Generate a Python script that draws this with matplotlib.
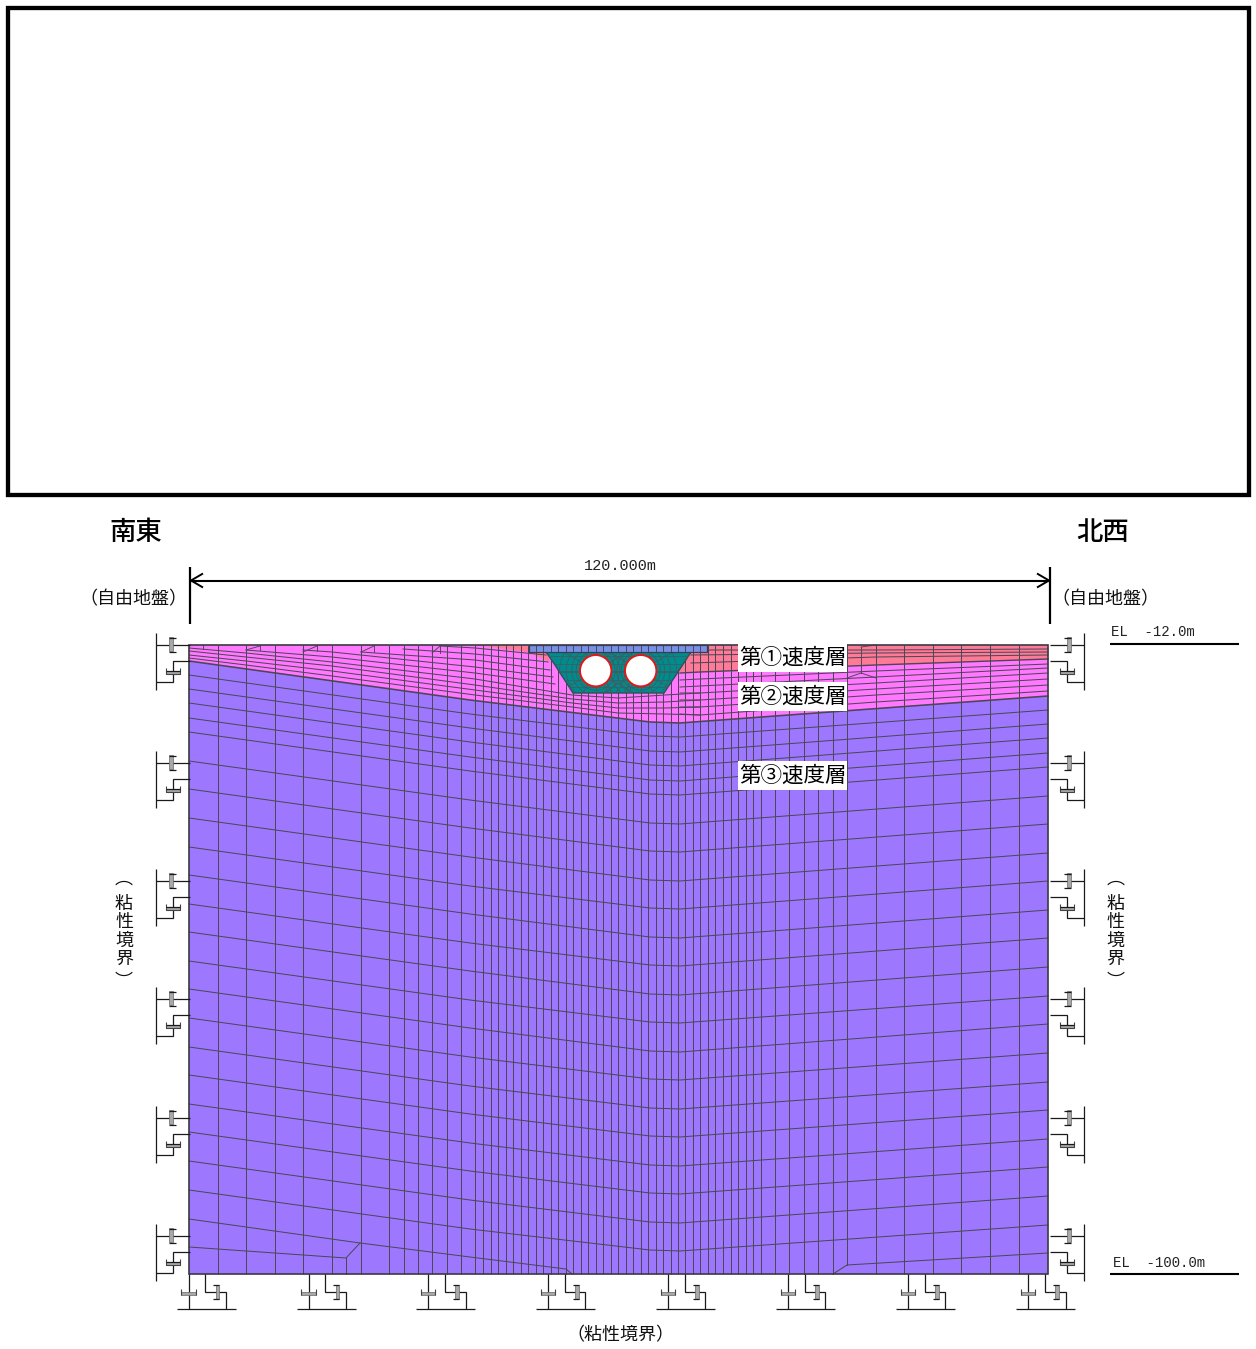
import matplotlib
matplotlib.use("Agg")
import matplotlib.pyplot as plt
from matplotlib.patches import Polygon, Rectangle, Circle
import numpy as np

plt.rcParams['font.family'] = ['Noto Sans CJK JP', 'DejaVu Sans']
MONO = 'Liberation Mono'

# ---- mesh data (figure pixels) ----
x_left, x_right, y_top, y_bot = 189, 1048, 645, 1274
x_grid = [217.5, 246, 275, 303, 332, 361, 389, 404, 418, 432, 447, 461, 475, 483, 491,
          498, 506, 513, 521, 528, 536, 543, 551, 558, 566, 573, 581, 588, 596, 603,
          611, 618, 626, 633, 641, 648, 656, 663, 671, 678, 685, 693, 700, 708, 715,
          723, 731, 738, 746, 753, 761, 775, 789, 804, 818, 833, 876, 904, 933, 961,
          990, 1019]
stations = [189, 470, 650, 680, 1048]
row_189 = [661, 675, 689, 703, 718, 732, 761, 789, 818, 847, 875, 904, 932, 961, 989,
           1018, 1047, 1075, 1104, 1132, 1161, 1190]
row_470 = [700, 714, 728, 742, 757, 771, 800, 828, 857, 886, 914, 943, 971, 1000, 1028,
           1057, 1086, 1114, 1143, 1171, 1200, 1229]
row_650 = [722, 736, 751, 765, 780, 794, 823, 851, 880, 908, 937, 965, 994, 1022, 1051,
           1079, 1108, 1136, 1165, 1193, 1222, 1250]
row_680 = [723, 737, 752, 766, 781, 795, 824, 852, 881, 909, 938, 966, 995, 1023, 1052,
           1080, 1109, 1137, 1166, 1194, 1223, 1251]
row_1048 = [696, 710, 724, 738, 753, 767, 796, 824, 853, 881, 910, 938, 967, 996, 1024,
            1053, 1082, 1110, 1139, 1167, 1196, 1225]
# rows that end against the bottom edge
bottom_left_row_x = [189, 360, 470, 566, 572]
bottom_left_row_y = [1219, 1243, 1257, 1269, 1274]
bottom_extra_x = [189, 346, 360]
bottom_extra_y = [1247, 1258, 1243]
bottom_right_row_x = [1048, 847, 833]
bottom_right_row_y = [1253, 1265, 1274]
partial_vertical_x = [346, 847]
partial_vertical_y = [(1258, 1274), (645, 1265)]

# layer 1 (red) outlines
red_right_x = [691, 707, 1048, 1048, 847, 738, 678]
red_right_y = [652, 645, 645, 659, 666, 671, 672]
red_left_x = [476, 529, 529, 546, 550, 528]
red_left_y = [645, 645, 652, 652, 662, 652]
# layer 1 internal rows, right part
red_rows_x = [691, 876, 1048]
red_rows_y = [[650, 650, 649], [655, 653, 652], [663, 657, 655]]
# layer 2 rows, right of the tunnel
pink_r_x = [680, 700, 876, 1048]
pink_r_y = [[673, 672, 665, 659], [680, 679, 671, 664], [687, 686, 677, 668],
            [693, 693, 683, 673], [700, 700, 689, 679], [707, 707, 695, 685],
            [714, 715, 702, 691]]
# layer 2 rows running under the tunnel
under_x = [189, 246, 332, 475, 572, 618, 665, 700]
under_y = [[658, 665, 676, 695, 707, 713, 714, 715],
           [655, 661, 671, 690, 703, 708, 708, 707],
           [651, 657, 666, 685, 699, 703, 702, 700],
           [648, 653, 662, 679, 695, 698, 695, 693]]
# layer 2 rows that start at the surface and end on the tunnel block
pink_l_rows = [([246, 332, 475, 555], [650, 657, 673, 684]),
               ([303, 332, 475, 553], [650, 652, 667, 677]),
               ([361, 475, 550], [652, 660, 670]),
               ([403, 475, 548], [649, 654, 662]),
               ([440, 475, 546], [646, 648, 655])]
# small transition marks at the surface
surface_marks = [((203, 645), (203, 649)), ((260, 645), (260, 650)), ((317, 645), (317, 651)),
                 ((374, 645), (374, 652)), ((440, 645), (440, 653)), ((246, 650), (260, 646)),
                 ((303, 652), (317, 646)), ((361, 652), (374, 646)), ((432, 653), (440, 646)),
                 ((861, 647), (876, 645)), ((861, 647), (861, 673)), ((847, 678), (861, 673)),
                 ((861, 673), (876, 678))]

# tunnel block
teal_x = [546, 691, 678, 664, 573, 555]
teal_y = [652, 652, 672, 693, 693, 665]
plate_x, plate_x2, plate_y, plate_y2 = 529, 707, 645, 652
tunnel_cx = [595.7, 640.7]
tunnel_cy = 670.7
tunnel_r = 15.7
ring_radii = [19.5, 24, 29.5, 36]
spoke_deg = list(range(0, 360, 30))
teal_rows = [656, 664, 672, 680, 687]

# boundary dashpot anchors
side_anchor_y = [645, 763, 881, 999, 1118, 1236]
bottom_anchor_x = [188.7, 308.7, 428.4, 548, 668, 788, 908, 1028.3]

# labels
layer_labels = ['第①速度層', '第②速度層', '第③速度層']
layer_label_y = [657, 696, 775]
viscous_chars = ['︵', '粘', '性', '境', '界', '︶']
viscous_y = [879, 903.5, 922, 940.5, 959, 982]

C_RED, C_PINK, C_PURP = '#ff7a96', '#ff78ff', '#9d78ff'
C_TEAL, C_BLUE = '#008c8c', '#7890e6'
C_LINE = '#4c4656'

fig = plt.figure(figsize=(12.56, 13.49), dpi=100)
ax = fig.add_axes([0, 0, 1, 1])
ax.set_xlim(0, 1256)
ax.set_ylim(1349, 0)
ax.axis('off')

# frame
ax.add_patch(Rectangle((7.5, 8), 1241, 486.5, fc='white', ec='black', lw=3.1, zorder=1))

# layer fills
ax.add_patch(Rectangle((x_left, y_top), x_right - x_left, y_bot - y_top, fc=C_PURP, ec='none', zorder=1))
bx = stations
by = [r[0] for r in (row_189, row_470, row_650, row_680, row_1048)]
ax.add_patch(Polygon(list(zip([x_left] + bx + [x_right], [y_top] + by + [y_top])), fc=C_PINK, ec='none', zorder=1.1))
ax.add_patch(Polygon(list(zip(red_right_x, red_right_y)), fc=C_RED, ec='none', zorder=1.2))
ax.add_patch(Polygon(list(zip(red_left_x, red_left_y)), fc=C_RED, ec='none', zorder=1.2))

lw_m = 0.72
# verticals
for x in x_grid:
    ax.plot([x, x], [y_top, y_bot], color=C_LINE, lw=lw_m, zorder=2, solid_capstyle='butt')
for x, (a, b) in zip(partial_vertical_x, partial_vertical_y):
    ax.plot([x, x], [a, b], color=C_LINE, lw=lw_m, zorder=2)

# layer 3 rows
for i in range(len(row_189)):
    ys = [row_189[i], row_470[i], row_650[i], row_680[i], row_1048[i]]
    ax.plot(stations, ys, color=C_LINE, lw=1.15 if i == 0 else lw_m, zorder=2.2)
ax.plot(bottom_left_row_x, bottom_left_row_y, color=C_LINE, lw=lw_m, zorder=2.2)
ax.plot(bottom_extra_x, bottom_extra_y, color=C_LINE, lw=lw_m, zorder=2.2)
ax.plot(bottom_right_row_x, bottom_right_row_y, color=C_LINE, lw=lw_m, zorder=2.2)

# upper rows
for ys in red_rows_y:
    ax.plot(red_rows_x, ys, color=C_LINE, lw=lw_m, zorder=2.2)
for ys in pink_r_y:
    ax.plot(pink_r_x, ys, color=C_LINE, lw=1.0 if ys is pink_r_y[0] else lw_m, zorder=2.2)
for ys in under_y:
    ax.plot(under_x, ys, color=C_LINE, lw=lw_m, zorder=2.2)
for xs, ys in pink_l_rows:
    ax.plot(xs, ys, color=C_LINE, lw=lw_m, zorder=2.2)
for p, q in surface_marks:
    ax.plot([p[0], q[0]], [p[1], q[1]], color=C_LINE, lw=0.65, zorder=2.2)

# mesh outline
ax.add_patch(Rectangle((x_left, y_top), x_right - x_left, y_bot - y_top, fc='none', ec='#3c3844', lw=1.2, zorder=3))

# tunnel block
teal = Polygon(list(zip(teal_x, teal_y)), fc=C_TEAL, ec='#2f4f55', lw=1.0, zorder=4)
ax.add_patch(teal)
art = []
for cx in tunnel_cx:
    for r in ring_radii:
        c = Circle((cx, tunnel_cy), r, fc='none', ec='#3a5f66', lw=0.6, zorder=4.1)
        ax.add_patch(c)
        art.append(c)
    for d in spoke_deg:
        t = np.deg2rad(d)
        ln, = ax.plot([cx + tunnel_r * np.cos(t), cx + 55 * np.cos(t)],
                      [tunnel_cy + tunnel_r * np.sin(t), tunnel_cy + 55 * np.sin(t)],
                      color='#3a5f66', lw=0.6, zorder=4.1)
        art.append(ln)
for y in teal_rows:
    ln, = ax.plot([540, 695], [y, y], color='#3a5f66', lw=0.6, zorder=4.1)
    art.append(ln)
for a in art:
    a.set_clip_path(teal)
for cx in tunnel_cx:
    ax.add_patch(Circle((cx, tunnel_cy), tunnel_r, fc='white', ec='#e01818', lw=1.4, zorder=4.5))

# plate
ax.add_patch(Rectangle((plate_x, plate_y), plate_x2 - plate_x, plate_y2 - plate_y, fc=C_BLUE, ec='#3c3c50', lw=0.9, zorder=5))
for x in x_grid:
    if plate_x < x < plate_x2:
        ax.plot([x, x], [plate_y, plate_y2], color='#3c3c50', lw=0.6, zorder=5.1)

# layer labels
for s, y in zip(layer_labels, layer_label_y):
    ax.add_patch(Rectangle((738, y - 14), 109, 28.5, fc='white', ec='none', zorder=6))
    ax.text(792.5, y + 1, s, fontsize=15.5, ha='center', va='center', color='black', zorder=7)

# dashpots
C_D = '#1a1a1a'
C_G = '#a8a8a8'
lw_d = 0.9


def seg(xs, ys, c=C_D, lw=lw_d):
    ax.plot(xs, ys, color=c, lw=lw, zorder=3, solid_capstyle='butt', solid_joinstyle='miter')


def side(y0, m):
    f = (lambda v: 1239.7 - v) if m else (lambda v: v)
    seg([f(155.7)] * 2, [y0 - 12.5, y0 + 45])
    seg([f(155.7), f(190)], [y0, y0])
    xa, xb = sorted([f(169), f(172.5)])
    ax.add_patch(Rectangle((xa, y0 - 8), xb - xa, 14, fc=C_G, ec='#666666', lw=0.5, zorder=3))
    seg([f(169), f(175.5)], [y0 - 7.5, y0 - 7.5])
    seg([f(169), f(175.5)], [y0 + 6.5, y0 + 6.5])
    seg([f(190), f(173), f(173), f(155.7)], [y0 + 15.5, y0 + 15.5, y0 + 37, y0 + 37])
    xa, xb = sorted([f(166), f(180)])
    ax.add_patch(Rectangle((xa, y0 + 26), xb - xa, 3, fc=C_G, ec='#666666', lw=0.5, zorder=3))
    seg([f(166), f(166), f(180), f(180)], [y0 + 22.5, y0 + 29, y0 + 29, y0 + 22.5], c='#444444', lw=0.8)
    seg([f(166), f(180)], [y0 + 26, y0 + 26])


def bottom(x0):
    seg([x0 - 12, x0 + 47], [1309, 1309])
    seg([x0, x0], [1274, 1309])
    ax.add_patch(Rectangle((x0 - 7.5, 1291.5), 14.5, 3.5, fc=C_G, ec='#666666', lw=0.5, zorder=3))
    seg([x0 - 7.5, x0 - 7.5], [1289, 1295], c='#444444', lw=0.8)
    seg([x0 + 7, x0 + 7], [1289, 1295], c='#444444', lw=0.8)
    seg([x0 + 16.7, x0 + 16.7, x0 + 37.3, x0 + 37.3], [1274, 1291.7, 1291.7, 1309])
    ax.add_patch(Rectangle((x0 + 27, 1285), 3.5, 14, fc=C_G, ec='#666666', lw=0.5, zorder=3))
    seg([x0 + 24.5, x0 + 30.5], [1285, 1285])
    seg([x0 + 24.5, x0 + 30.5], [1299, 1299])


for y0 in side_anchor_y:
    side(y0, False)
    side(y0, True)
for x0 in bottom_anchor_x:
    bottom(x0)

# dimension line
seg([190, 1050], [580.5, 580.5], c='black', lw=1.5)
seg([190, 190], [567, 624], c='black', lw=1.6)
seg([1049.5, 1049.5], [567, 624], c='black', lw=1.6)
seg([203, 191, 203], [573.5, 580.5, 587.5], c='black', lw=1.4)
seg([1037, 1049, 1037], [573.5, 580.5, 587.5], c='black', lw=1.4)
ax.text(620, 565.5, '120.000m', family=MONO, fontsize=11, ha='center', va='center', color='#222222')

# level lines
seg([1110, 1239], [643.5, 643.5], c='black', lw=1.5)
seg([1110, 1239], [1274, 1274], c='black', lw=1.5)
ax.text(1111, 632, 'EL  -12.0m', family=MONO, fontsize=10.1, ha='left', va='center', color='#222222')
ax.text(1113, 1263, 'EL  -100.0m', family=MONO, fontsize=10.1, ha='left', va='center', color='#222222')

# titles
ax.text(135.5, 532, '南東', fontsize=19, ha='center', va='center', color='black', fontweight='medium')
ax.text(1103, 532, '北西', fontsize=19, ha='center', va='center', color='black', fontweight='medium')
ax.text(133, 599.5, '（自由地盤）', fontsize=13, ha='center', va='center', color='#111111')
ax.text(1105.5, 599.5, '（自由地盤）', fontsize=13, ha='center', va='center', color='#111111')
ax.text(620, 1335.5, '（粘性境界）', fontsize=13, ha='center', va='center', color='#111111')

for cx in (124, 1115.5):
    for ch, y in zip(viscous_chars, viscous_y):
        ax.text(cx, y, ch, fontsize=13, ha='center', va='center', color='#111111')

fig.savefig('out.png', dpi=100)
